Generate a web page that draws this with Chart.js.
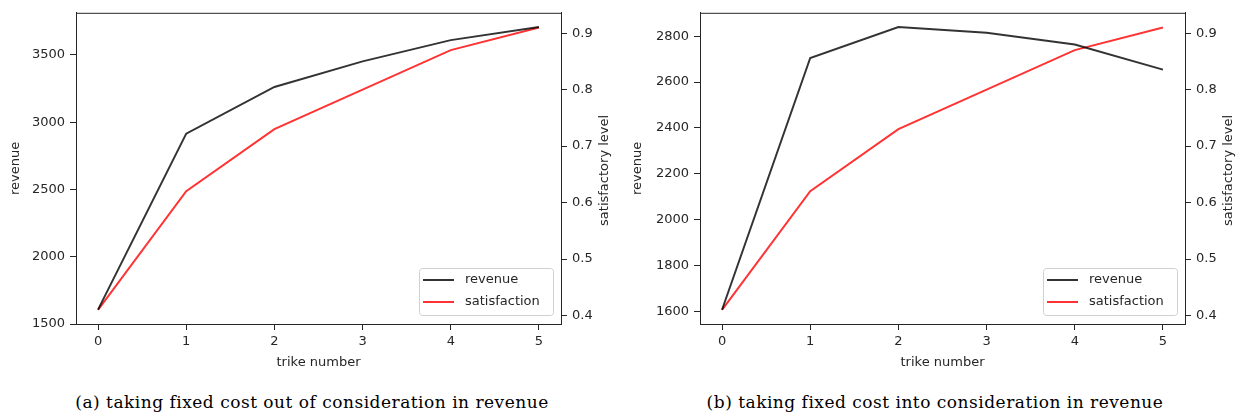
<!DOCTYPE html>
<html lang="en">
<head>
<meta charset="UTF-8">
<title>Trike number: revenue and satisfaction</title>
<script src="https://cdn.jsdelivr.net/npm/chart.js"></script>
<style>
  body { margin: 0; width: 1242px; height: 415px; background: #fff; position: relative; overflow: hidden; }
  .panel { position: absolute; top: 0; height: 380px; }
  .caption {
    position: absolute; top: 392px; transform: translateX(-50%);
    font-family: "DejaVu Serif", serif; font-size: 17px; letter-spacing: 0.5px; color: #000; white-space: nowrap;
  }
</style>
</head>
<body>
<div class="panel" style="left:0;width:620px"><canvas id="chartA"></canvas></div>
<div class="panel" style="left:620px;width:622px"><canvas id="chartB"></canvas></div>
<div class="caption" style="left:312px">(a) taking fixed cost out of consideration in revenue</div>
<div class="caption" style="left:935px">(b) taking fixed cost into consideration in revenue</div>

<script>
// data
const trikes = [0, 1, 2, 3, 4, 5];
const revenueA = [1607, 2915, 3262, 3452, 3610, 3708];
const revenueB = [1606, 2705, 2840, 2815, 2764, 2654];
const satisfaction = [0.41, 0.62, 0.73, 0.80, 0.87, 0.91];

const revenueTicksA = [1500, 2000, 2500, 3000, 3500];
const revenueTicksB = [1600, 1800, 2000, 2200, 2400, 2600, 2800];
const satisfactionTicks = [0.4, 0.5, 0.6, 0.7, 0.8, 0.9];

const textColor = '#262626';
const font = { family: 'DejaVu Sans', size: 13 };

// legend box inside the plot + right axis title (reads bottom to top like matplotlib)
const extras = {
  id: 'extras',
  afterDraw(chart) {
    const { ctx, chartArea } = chart;
    ctx.save();
    // top spine
    ctx.strokeStyle = textColor;
    ctx.lineWidth = 1;
    ctx.beginPath();
    ctx.moveTo(chartArea.left, chartArea.top + 0.5);
    ctx.lineTo(chartArea.right, chartArea.top + 0.5);
    ctx.stroke();

    const w = 134, h = 47;
    const left = Math.round(chartArea.right - 8 - w), top = Math.round(chartArea.bottom - 9 - h);
    ctx.beginPath();
    ctx.roundRect(left + 0.5, top + 0.5, w, h, 3);
    ctx.fillStyle = 'rgba(255,255,255,0.8)';
    ctx.fill();
    ctx.strokeStyle = '#d0d0d0';
    ctx.stroke();
    ctx.font = '13px "DejaVu Sans"';
    ctx.textBaseline = 'middle';
    chart.data.datasets.forEach((ds, i) => {
      const y = top + 12 + i * 22;
      ctx.strokeStyle = ds.borderColor;
      ctx.lineWidth = 2;
      ctx.beginPath();
      ctx.moveTo(left + 4, y);
      ctx.lineTo(left + 35, y);
      ctx.stroke();
      ctx.fillStyle = textColor;
      ctx.fillText(ds.label, left + 46, y);
    });

    ctx.translate(chartArea.right + 44, (chartArea.top + chartArea.bottom) / 2 + 2);
    ctx.rotate(-Math.PI / 2);
    ctx.textAlign = 'center';
    ctx.fillText('satisfactory level', 0, 0);
    ctx.restore();
  }
};

function axisGrid() {
  return { display: true, drawOnChartArea: false, tickLength: 6, color: textColor };
}

function makeChart(id, revenue, revTicks, revMin, revMax, leftWidth, rightWidth, leftTitlePad) {
  new Chart(document.getElementById(id), {
    type: 'line',
    data: {
      datasets: [
        {
          label: 'revenue',
          data: trikes.map((x, i) => ({ x: x, y: revenue[i] })),
          borderColor: 'rgba(0,0,0,0.8)',
          borderWidth: 2,
          pointRadius: 0,
          tension: 0,
          yAxisID: 'y'
        },
        {
          label: 'satisfaction',
          data: trikes.map((x, i) => ({ x: x, y: satisfaction[i] })),
          borderColor: 'rgba(255,0,0,0.8)',
          borderWidth: 2,
          pointRadius: 0,
          tension: 0,
          yAxisID: 'y1'
        }
      ]
    },
    options: {
      responsive: true,
      maintainAspectRatio: false,
      animation: false,
      layout: { padding: { top: 8, left: 0, right: 0, bottom: 0 } },
      plugins: { legend: { display: false }, tooltip: { enabled: false } },
      scales: {
        x: {
          type: 'linear',
          position: 'bottom',
          min: -0.25,
          max: 5.25,
          afterBuildTicks: s => { s.ticks = trikes.map(v => ({ value: v })); },
          afterFit: s => { s.height = 56; },
          ticks: { color: textColor, font: font, padding: 4, maxRotation: 0, callback: v => String(v) },
          grid: axisGrid(),
          border: { display: true, color: textColor },
          title: { display: true, text: 'trike number', color: textColor, font: font, padding: { top: 0, bottom: 10 } }
        },
        y: {
          type: 'linear',
          position: 'left',
          min: revMin,
          max: revMax,
          afterBuildTicks: s => { s.ticks = revTicks.map(v => ({ value: v })); },
          afterFit: s => { s.width = leftWidth; },
          ticks: { color: textColor, font: font, padding: 5, callback: v => String(v) },
          grid: axisGrid(),
          border: { display: true, color: textColor },
          title: { display: true, text: 'revenue', color: textColor, font: font, padding: { top: leftTitlePad, bottom: 0 } }
        },
        y1: {
          type: 'linear',
          position: 'right',
          min: 0.385,
          max: 0.936,
          afterBuildTicks: s => { s.ticks = satisfactionTicks.map(v => ({ value: v })); },
          afterFit: s => { s.width = rightWidth; },
          ticks: { color: textColor, font: font, padding: 5, callback: v => v.toFixed(1) },
          grid: axisGrid(),
          border: { display: true, color: textColor }
        }
      }
    },
    plugins: [extras]
  });
}

makeChart('chartA', revenueA, revenueTicksA, 1500, 3813, 76, 59, 8);
makeChart('chartB', revenueB, revenueTicksB, 1544, 2902, 80, 57, 10);
</script>
</body>
</html>
